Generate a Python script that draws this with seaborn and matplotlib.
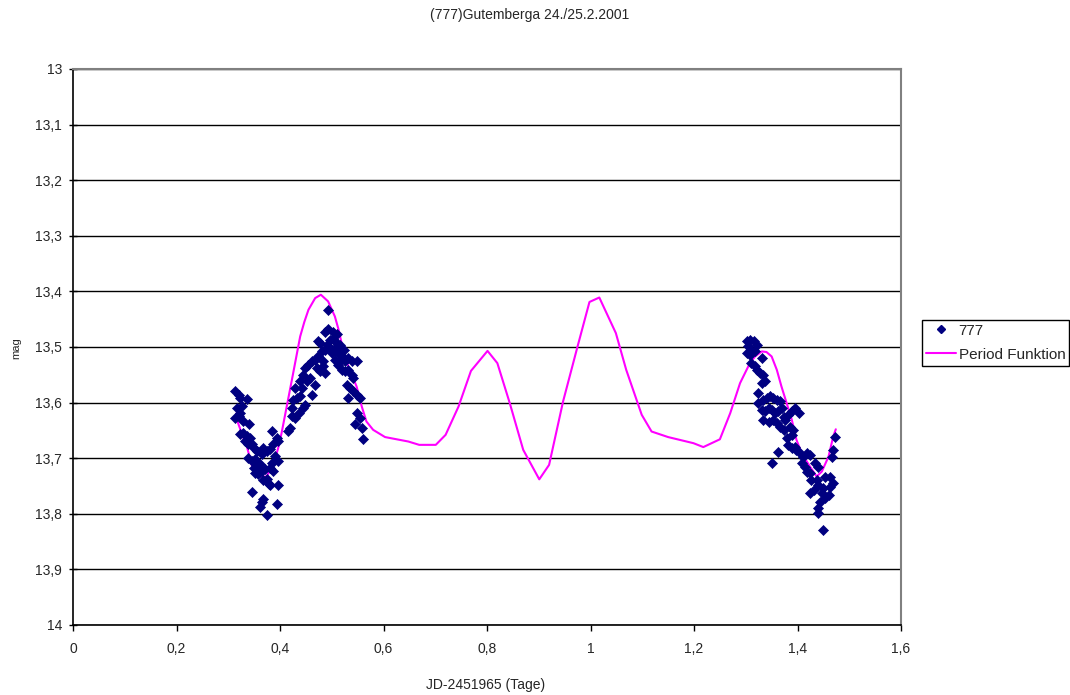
import matplotlib
matplotlib.use("Agg")
import matplotlib.pyplot as plt
import seaborn as sns
import pandas as pd
from matplotlib.ticker import FuncFormatter
from matplotlib.lines import Line2D

# ---------------- data ----------------
title = "(777)Gutemberga 24./25.2.2001"
x_label = "JD-2451965 (Tage)"
y_label = "mag"
series_points = "777"
series_line = "Period Funktion"

obs_x = [
    0.313, 0.320, 0.323, 0.336, 0.316, 0.326, 0.323, 0.313, 0.320, 0.329, 0.341, 0.323, 0.329, 0.336,
    0.342, 0.332, 0.339, 0.345, 0.349, 0.355, 0.339, 0.345, 0.352, 0.358, 0.365, 0.368, 0.374, 0.384,
    0.394, 0.397, 0.387, 0.381, 0.390, 0.397, 0.384, 0.381, 0.387, 0.352, 0.358, 0.365, 0.371, 0.374,
    0.368, 0.378, 0.381, 0.397, 0.345, 0.368, 0.365, 0.361, 0.394, 0.374, 0.355, 0.361, 0.349,
    0.416, 0.419, 0.423, 0.429, 0.436, 0.423, 0.426, 0.432, 0.439, 0.445, 0.448, 0.442, 0.429, 0.439,
    0.452, 0.458, 0.468, 0.461, 0.445, 0.448, 0.455, 0.461, 0.468, 0.471, 0.477, 0.484, 0.474, 0.481,
    0.487, 0.490, 0.477, 0.474, 0.497, 0.503, 0.497, 0.500, 0.506, 0.510, 0.516, 0.487, 0.493, 0.503,
    0.510, 0.492, 0.487, 0.484,
    0.513, 0.519, 0.526, 0.532, 0.539, 0.548, 0.513, 0.519, 0.526, 0.532, 0.539, 0.542, 0.529, 0.535,
    0.542, 0.548, 0.555, 0.532, 0.548, 0.555, 0.558, 0.545, 0.560, 0.516, 0.506, 0.523,
    1.302, 1.308, 1.315, 1.321, 1.305, 1.311, 1.302, 1.308, 1.318, 1.331, 1.311, 1.318, 1.321, 1.328,
    1.334, 1.337, 1.331, 1.324, 1.324, 1.334, 1.341, 1.347, 1.353, 1.360, 1.366, 1.331, 1.337, 1.344,
    1.350, 1.357, 1.363, 1.370, 1.373, 1.376, 1.382, 1.389, 1.395, 1.402, 1.334, 1.344, 1.353, 1.360,
    1.366, 1.373, 1.386, 1.392, 1.389, 1.379, 1.382, 1.389, 1.395, 1.398, 1.363, 1.350, 1.405, 1.411,
    1.418, 1.424, 1.408, 1.415, 1.418, 1.424, 1.434, 1.440, 1.427, 1.437, 1.424, 1.431, 1.440, 1.450,
    1.447, 1.453, 1.444, 1.463, 1.469, 1.463, 1.460, 1.453, 1.466, 1.469, 1.473, 1.440, 1.440, 1.450,
]
obs_mag = [
    13.580, 13.586, 13.592, 13.593, 13.610, 13.607, 13.618, 13.627, 13.624, 13.633, 13.638, 13.657, 13.654, 13.660,
    13.663, 13.669, 13.675, 13.675, 13.681, 13.687, 13.699, 13.705, 13.702, 13.708, 13.693, 13.681, 13.687, 13.651,
    13.663, 13.669, 13.675, 13.684, 13.696, 13.705, 13.708, 13.717, 13.723, 13.726, 13.729, 13.723, 13.720, 13.738,
    13.740, 13.746, 13.749, 13.749, 13.761, 13.773, 13.779, 13.788, 13.782, 13.803, 13.714, 13.711, 13.717,
    13.651, 13.645, 13.624, 13.627, 13.618, 13.610, 13.595, 13.592, 13.589, 13.610, 13.604, 13.574, 13.574, 13.562,
    13.562, 13.556, 13.568, 13.586, 13.550, 13.538, 13.532, 13.526, 13.523, 13.538, 13.544, 13.526, 13.517, 13.508,
    13.505, 13.496, 13.493, 13.490, 13.488, 13.485, 13.502, 13.511, 13.502, 13.493, 13.496, 13.473, 13.467, 13.473,
    13.476, 13.434, 13.547, 13.535,
    13.511, 13.517, 13.526, 13.520, 13.526, 13.526, 13.532, 13.541, 13.544, 13.541, 13.550, 13.556, 13.568, 13.574,
    13.580, 13.586, 13.592, 13.592, 13.618, 13.627, 13.645, 13.639, 13.666, 13.526, 13.523, 13.505,
    13.490, 13.487, 13.490, 13.496, 13.499, 13.505, 13.511, 13.514, 13.508, 13.520, 13.529, 13.535, 13.541, 13.547,
    13.550, 13.562, 13.565, 13.583, 13.601, 13.595, 13.592, 13.589, 13.592, 13.595, 13.598, 13.613, 13.616, 13.610,
    13.613, 13.619, 13.616, 13.610, 13.625, 13.631, 13.622, 13.616, 13.610, 13.619, 13.631, 13.634, 13.631, 13.637,
    13.643, 13.649, 13.643, 13.649, 13.658, 13.664, 13.676, 13.682, 13.679, 13.685, 13.688, 13.709, 13.691, 13.697,
    13.691, 13.694, 13.709, 13.715, 13.724, 13.727, 13.709, 13.715, 13.739, 13.739, 13.763, 13.757, 13.748, 13.754,
    13.763, 13.772, 13.778, 13.733, 13.745, 13.751, 13.766, 13.733, 13.697, 13.685, 13.661, 13.790, 13.799, 13.829,
]

fit_x = [
    0.315, 0.319, 0.328, 0.336, 0.342, 0.348, 0.360, 0.374, 0.382, 0.390, 0.397, 0.403, 0.413, 0.423,
    0.431, 0.439, 0.447, 0.455, 0.468, 0.479, 0.493, 0.506, 0.513, 0.519, 0.532, 0.548, 0.558, 0.567,
    0.580, 0.603, 0.648, 0.669, 0.701, 0.720, 0.745, 0.769, 0.801, 0.820, 0.844, 0.870, 0.901, 0.920,
    0.947, 0.975, 0.998, 1.017, 1.049, 1.069, 1.099, 1.118, 1.150, 1.199, 1.218, 1.250, 1.270, 1.289,
    1.308, 1.318, 1.331, 1.340, 1.350, 1.360, 1.369, 1.379, 1.389, 1.398, 1.408, 1.424, 1.437, 1.447,
    1.460, 1.469, 1.474,
]
fit_mag = [
    13.620, 13.637, 13.660, 13.679, 13.700, 13.721, 13.734, 13.733, 13.720, 13.703, 13.680, 13.655, 13.607, 13.559,
    13.520, 13.481, 13.455, 13.433, 13.412, 13.406, 13.418, 13.445, 13.468, 13.493, 13.535, 13.571, 13.607, 13.634,
    13.649, 13.662, 13.670, 13.676, 13.676, 13.658, 13.607, 13.543, 13.507, 13.529, 13.601, 13.685, 13.738, 13.712,
    13.598, 13.499, 13.419, 13.411, 13.475, 13.541, 13.622, 13.652, 13.662, 13.673, 13.680, 13.666, 13.619, 13.565,
    13.529, 13.517, 13.508, 13.509, 13.517, 13.541, 13.571, 13.601, 13.631, 13.667, 13.691, 13.715, 13.733, 13.724,
    13.697, 13.661, 13.648,
]

x_ticks = [0, 0.2, 0.4, 0.6, 0.8, 1.0, 1.2, 1.4, 1.6]
y_ticks = [13.0, 13.1, 13.2, 13.3, 13.4, 13.5, 13.6, 13.7, 13.8, 13.9, 14.0]

obs_df = pd.DataFrame({"x": obs_x, "mag": obs_mag})
fit_df = pd.DataFrame({"x": fit_x, "mag": fit_mag})

# ---------------- style ----------------
sns.set_style("white")
plt.rcParams["font.family"] = ["Liberation Sans", "DejaVu Sans"]
plt.rcParams["font.size"] = 10

NAVY = "#000080"
MAGENTA = "#FF00FF"

fig = plt.figure(figsize=(10.70, 6.95), dpi=100)
ax = fig.add_axes([73 / 1070, 1 - 625 / 695, 828 / 1070, 556 / 695])

sns.lineplot(data=fit_df, x="x", y="mag", ax=ax, color=MAGENTA, linewidth=1.5,
             sort=False, estimator=None, zorder=3)
sns.scatterplot(data=obs_df, x="x", y="mag", ax=ax, color=NAVY, marker="D",
                s=26, edgecolor=NAVY, linewidth=0.5, zorder=4)

ax.set_xlim(0, 1.6)
ax.set_ylim(14.0, 13.0)
ax.set_xticks(x_ticks)
ax.set_yticks(y_ticks)


def comma_fmt(v, pos):
    s = f"{v:.1f}"
    if s.endswith(".0"):
        s = s[:-2]
    return s.replace(".", ",")


ax.xaxis.set_major_formatter(FuncFormatter(comma_fmt))
ax.yaxis.set_major_formatter(FuncFormatter(comma_fmt))

ax.grid(axis="y", color="black", linewidth=1.0)
ax.grid(axis="x", visible=False)
ax.set_axisbelow(True)

for side in ["left", "bottom"]:
    ax.spines[side].set_color("black")
    ax.spines[side].set_linewidth(1.2)
for side in ["top", "right"]:
    ax.spines[side].set_color("#808080")
    ax.spines[side].set_linewidth(1.5)

ax.tick_params(axis="y", direction="inout", length=6, width=1, color="black",
               labelsize=10, pad=5, left=True)
ax.tick_params(axis="x", direction="out", length=4, width=1, color="black",
               labelsize=10, pad=8, bottom=True)

ax.set_xlabel("")
ax.set_ylabel("")
fig.text(486 / 1070, 1 - 685 / 695, x_label, ha="center", va="center", fontsize=10)
fig.text(16 / 1070, 1 - 348 / 695, y_label, ha="center", va="center", fontsize=8,
         rotation=90)
fig.text(530 / 1070, 1 - 15 / 695, title, ha="center", va="center", fontsize=10)

handles = [
    Line2D([], [], marker="D", color=NAVY, linestyle="none", markersize=4.5),
    Line2D([], [], color=MAGENTA, linewidth=1.5),
]
leg = fig.legend(handles, [series_points, series_line], loc="upper left",
                 bbox_to_anchor=(922 / 1070, 1 - 320 / 695), frameon=True,
                 fancybox=False, framealpha=1, edgecolor="black", fontsize=11,
                 borderpad=0.25, handlelength=2.0, handletextpad=0.15,
                 labelspacing=0.65, borderaxespad=0)
leg.get_frame().set_linewidth(1.0)

fig.savefig("out.png", dpi=100)
